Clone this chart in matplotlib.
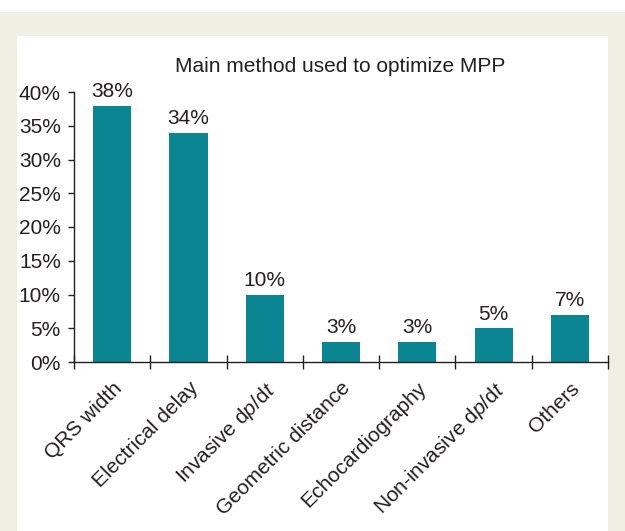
import matplotlib
matplotlib.use("Agg")
import matplotlib.pyplot as plt
from matplotlib.patches import Rectangle
from matplotlib.ticker import MultipleLocator, FuncFormatter

categories = ["QRS width", "Electrical delay", "Invasive d$p$/d$t$", "Geometric distance",
              "Echocardiography", "Non-invasive d$p$/d$t$", "Others"]
values = [38, 34, 10, 3, 3, 5, 7]
title = "Main method used to optimize MPP"

plt.rcParams['font.family'] = ['Liberation Sans', 'DejaVu Sans']
plt.rcParams['mathtext.fontset'] = 'custom'
plt.rcParams['mathtext.it'] = 'Liberation Sans:italic'
plt.rcParams['mathtext.rm'] = 'Liberation Sans'

TEXT = '#231F20'
BAR = '#0B8592'
BEIGE = '#EFEFE4'
FS = 15

W, H = 625, 531
fig = plt.figure(figsize=(W/100, H/100), dpi=100, facecolor='white')
fig.patches.append(Rectangle((0, 0), 1, 1 - 12/H, transform=fig.transFigure,
                             facecolor=BEIGE, edgecolor='none', zorder=-20))
fig.patches.append(Rectangle((17/W, 0), (608-17)/W, 1 - 36/H, transform=fig.transFigure,
                             facecolor='white', edgecolor='none', zorder=-10))

left, right, bottom, top = 74/W, 608/W, 1 - 362/H, 1 - 92/H
ax = fig.add_axes([left, bottom, right-left, top-bottom])
ax.set_facecolor('none')
ax.set_zorder(5)

x = list(range(len(categories)))
bars = ax.bar(x, values, width=0.5, color=BAR, zorder=2)
for xi, v in zip(x, values):
    ax.annotate(f"{v}%", (xi, v), xytext=(0, 6.2), textcoords='offset points',
                ha='center', va='baseline', fontsize=FS, color=TEXT)

ax.set_xlim(-0.5, len(categories) - 0.5)
ax.set_ylim(0, 40)
ax.yaxis.set_major_locator(MultipleLocator(5))
ax.yaxis.set_major_formatter(FuncFormatter(lambda v, p: f"{int(v)}%"))
ax.tick_params(axis='y', direction='out', length=4.5, width=1, colors=TEXT,
               labelsize=FS, pad=5)

ax.set_xticks([i - 0.5 for i in range(len(categories) + 1)], minor=False)
ax.set_xticklabels([])
ax.tick_params(axis='x', which='major', direction='inout', length=10, width=1, colors=TEXT)
ax.set_xticks(x, minor=True)
ax.set_xticklabels(categories, minor=True, rotation=45, ha='right', va='top',
                   rotation_mode='anchor', fontsize=FS, color=TEXT)
ax.tick_params(axis='x', which='minor', length=0, pad=12)

for s in ['top', 'right']:
    ax.spines[s].set_visible(False)
for s in ['left', 'bottom']:
    ax.spines[s].set_color(TEXT)
    ax.spines[s].set_linewidth(1)

fig.text(340/W, 1 - 71.7/H, title, ha='center', va='baseline', fontsize=FS, color=TEXT, zorder=6)

fig.savefig('out.png', dpi=100, facecolor=fig.get_facecolor())
